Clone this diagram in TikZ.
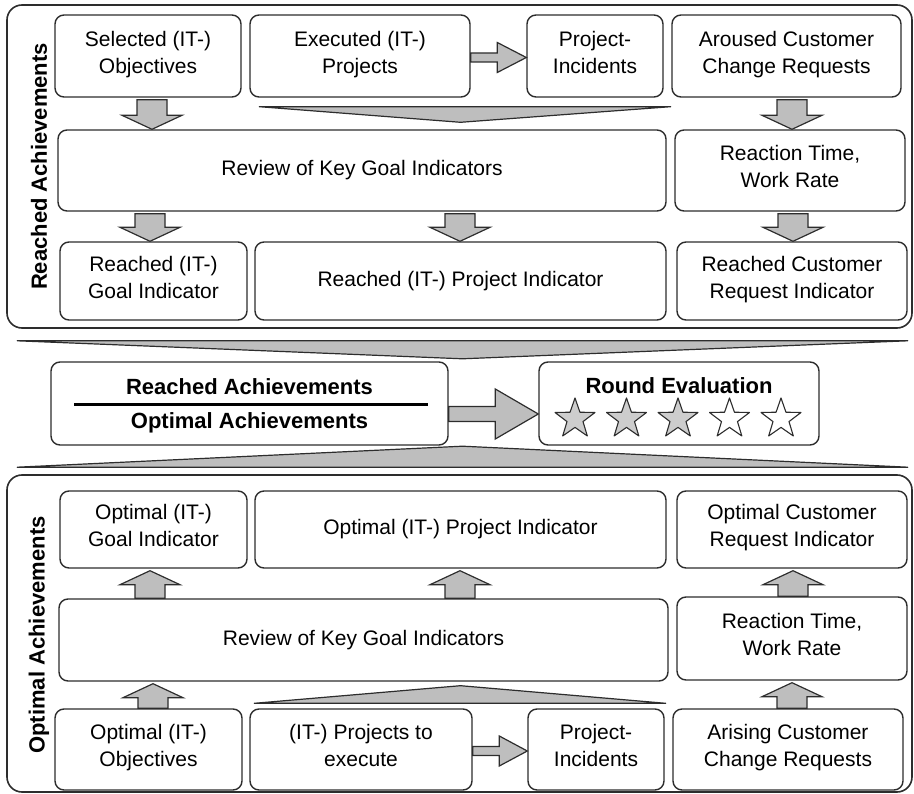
\documentclass[tikz,border=0pt]{standalone}
\usepackage{fontspec}
\setmainfont{Liberation Sans}
\usetikzlibrary{calc,shapes.geometric}
\newcommand{\boxfont}{\fontsize{21}{27}\selectfont}
\newcommand{\headfont}{\fontsize{22}{27}\selectfont\bfseries}
\definecolor{edgegray}{RGB}{45,45,45}
\definecolor{arrowgray}{RGB}{190,190,190}
\definecolor{stargray}{RGB}{205,205,205}
\tikzset{
  box/.style={draw=edgegray, line width=1.4pt, rounded corners=9pt, align=center, inner sep=0pt, font=\boxfont, execute at end node=\strut},
  frame/.style={draw=edgegray, line width=1.6pt, rounded corners=15pt, inner sep=0pt},
  blk/.style={draw=edgegray, fill=arrowgray, line width=1.2pt, line join=miter},
  wedge/.style={draw=edgegray, fill=arrowgray, line width=1.2pt},
  starshape/.style={star, star points=5, star point ratio=2.5, minimum size=42pt, inner sep=0pt, draw=edgegray, line width=1.1pt}
}
% fat arrows between boxes
\newcommand{\downblk}[3]{%
  \draw[blk] let \p1=(#1.south), \p2=(#2.north) in
    ({#3pt-15pt},{\y1-2pt}) -- ({#3pt+15pt},{\y1-2pt}) -- ({#3pt+15pt},{\y2+14pt})
    -- ({#3pt+30pt},{\y2+14pt}) -- ({#3pt},{\y2}) -- ({#3pt-30pt},{\y2+14pt})
    -- ({#3pt-15pt},{\y2+14pt}) -- cycle;}
\newcommand{\upblk}[3]{%
  \draw[blk] let \p1=(#1.north), \p2=(#2.south) in
    ({#3pt-15pt},{\y1}) -- ({#3pt+15pt},{\y1}) -- ({#3pt+15pt},{\y2-16pt})
    -- ({#3pt+30pt},{\y2-16pt}) -- ({#3pt},{\y2-2pt}) -- ({#3pt-30pt},{\y2-16pt})
    -- ({#3pt-15pt},{\y2-16pt}) -- cycle;}
\newcommand{\rightblk}[6]{%
  \draw[blk] let \p1=(#1.east), \p2=(#2.west) in
    ({\x1},{\y1+(#3pt)+#4pt}) -- ({\x2-#6pt},{\y1+(#3pt)+#4pt}) -- ({\x2-#6pt},{\y1+(#3pt)+#5pt})
    -- ({\x2},{\y1+(#3pt)}) -- ({\x2-#6pt},{\y1+(#3pt)-#5pt}) -- ({\x2-#6pt},{\y1+(#3pt)-#4pt})
    -- ({\x1},{\y1+(#3pt)-#4pt}) -- cycle;}

\begin{document}
\begin{tikzpicture}[line cap=round,line join=round,x=1pt,y=1pt]
    \useasboundingbox (0,0) rectangle (914,-794);

    % Reached achievements
    \draw(459.5,-166.5) node[frame, minimum width=905pt, minimum height=323pt] (reachedfrm) {};
    \draw(39,-166.5) node[rotate=90, font=\headfont] (reachedlbl) {Reached Achievements};
    \draw(148,-56) node[box, minimum width=186pt, minimum height=82pt] (sel) {Selected (IT-)\\Objectives};
    \draw(360,-56) node[box, minimum width=220pt, minimum height=82pt] (exe) {Executed (IT-)\\Projects};
    \draw(595,-56) node[box, minimum width=136pt, minimum height=82pt] (inc) {Project-\\Incidents};
    \draw(786.5,-56) node[box, minimum width=229pt, minimum height=82pt] (aro) {Aroused Customer\\Change Requests};
    \draw(362,-170.5) node[box, minimum width=608pt, minimum height=81pt] (rev) {Review of Key Goal Indicators};
    \draw(790,-170.5) node[box, minimum width=230pt, minimum height=81pt] (rea) {Reaction Time,\\Work Rate};
    \draw(153.5,-281) node[box, minimum width=187pt, minimum height=78pt] (rgoal) {Reached (IT-)\\Goal Indicator};
    \draw(460.5,-281) node[box, minimum width=411pt, minimum height=78pt] (rproj) {Reached (IT-) Project Indicator};
    \draw(792,-281) node[box, minimum width=230pt, minimum height=78pt] (rcust) {Reached Customer\\Request Indicator};

    % Evaluation
    \draw(249.5,-403.5) node[box, minimum width=397pt, minimum height=83pt] (ratio) {};
    \draw(249.5,-387) node[font=\headfont] (numer) {Reached Achievements};
    \draw(249.5,-423) node[font=\headfont] (denom) {Optimal Achievements};
    \draw[line width=3pt, line cap=butt] ([xshift=24pt,yshift=-1.5pt]ratio.west) -- ([xshift=-21pt,yshift=-1.5pt]ratio.east);
    \draw(679,-403.5) node[box, minimum width=280pt, minimum height=83pt] (round) {};
    \draw(679,-386) node[font=\headfont] (roundlbl) {Round Evaluation};
    \foreach \i/\shade in {1/stargray,2/stargray,3/stargray,4/white,5/white}
        \draw({523.5+51.5*\i},-419) node[starshape, fill=\shade] (star\i) {};

    % Optimal achievements
    \draw(459.5,-633.5) node[frame, minimum width=905pt, minimum height=317pt] (optimalfrm) {};
    \draw(39,-635) node[rotate=90, font=\headfont] (optimallbl) {Optimal Achievements};
    \draw(153.5,-529.5) node[box, minimum width=187pt, minimum height=77pt] (ogoal) {Optimal (IT-)\\Goal Indicator};
    \draw(460.5,-529.5) node[box, minimum width=411pt, minimum height=77pt] (oproj) {Optimal (IT-) Project Indicator};
    \draw(792,-529.5) node[box, minimum width=230pt, minimum height=77pt] (ocust) {Optimal Customer\\Request Indicator};
    \draw(363.5,-640) node[box, minimum width=609pt, minimum height=82pt] (orev) {Review of Key Goal Indicators};
    \draw(792,-638.5) node[box, minimum width=230pt, minimum height=83pt] (orea) {Reaction Time,\\Work Rate};
    \draw(148.5,-749.5) node[box, minimum width=187pt, minimum height=81pt] (oobj) {Optimal (IT-)\\Objectives};
    \draw(361,-749.5) node[box, minimum width=222pt, minimum height=81pt] (toexe) {(IT-) Projects to\\execute};
    \draw(596,-749.5) node[box, minimum width=136pt, minimum height=81pt] (oinc) {Project-\\Incidents};
    \draw(788,-749.5) node[box, minimum width=230pt, minimum height=81pt] (ari) {Arising Customer\\Change Requests};

    % Wedges
    \draw[wedge] ($(exe.south west)+(10,-9)$) -- ($(inc.south east)+(7,-9)$) -- ($(rev.north -| rproj.north)+(0,7)$) -- cycle;
    \draw[wedge] ($(reachedfrm.south west)+(11,-12)$) -- ($(reachedfrm.south east)+(-5,-12)$) -- ($(reachedfrm.south)+(3,-30)$) -- cycle;
    \draw[wedge] ($(optimalfrm.north west)+(11,7)$) -- ($(optimalfrm.north east)+(-5,7)$) -- ($(optimalfrm.north)+(3,28)$) -- cycle;
    \draw[wedge] ($(toexe.north west)+(5,5)$) -- ($(oinc.north east)+(1,5)$) -- ($(orev.south -| oproj.south)+(0,-4)$) -- cycle;

    % Arrows
    \foreach \source/\target/\xpos in {sel/rev/152, aro/rea/792, rev/rgoal/150, rev/rproj/460, rea/rcust/793} {
            \downblk{\source}{\target}{\xpos}
        }
    \foreach \source/\target/\xpos in {orev/ogoal/150, orev/oproj/460, orea/ocust/793, oobj/orev/153, ari/orea/792} {
            \upblk{\source}{\target}{\xpos}
        }
    \rightblk{exe}{inc}{-1.5}{4.5}{15}{29}
    \rightblk{toexe}{oinc}{-1.5}{4.5}{15}{28}
    \rightblk{ratio}{round}{-10.5}{7.5}{25}{43}
\end{tikzpicture}
\end{document}
